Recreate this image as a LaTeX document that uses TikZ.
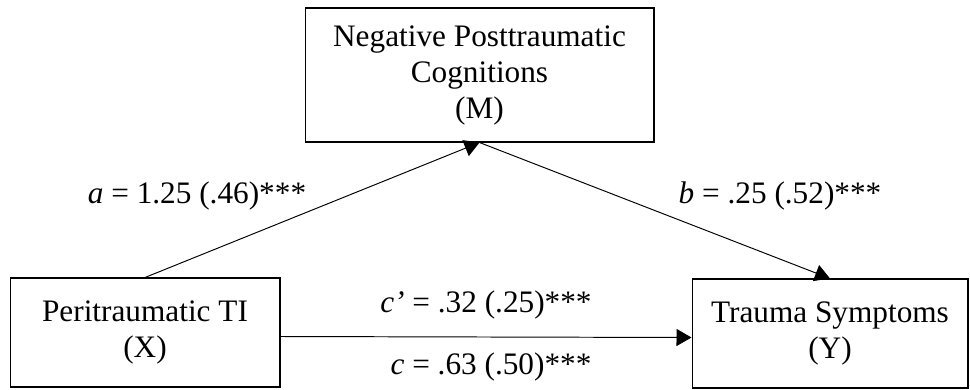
\documentclass[tikz,border=0pt]{standalone}
\usepackage{fontspec}
\setmainfont{Liberation Serif}
\usetikzlibrary{arrows.meta}

\begin{document}
\begin{tikzpicture}[x=0.02cm, y=-0.02cm, >={Triangle[length=0.3cm, width=0.34cm]},
    font=\fontsize{17.8}{20.5}\selectfont,
    var/.style={draw, line width=0.6pt, align=center, inner sep=0pt},
    effect/.style={->, line width=0.55pt}]

    \useasboundingbox (0,0) rectangle (970,389);

    % --- variables ---
    \node[var, minimum width=6.98cm, minimum height=2.68cm] (M) at (479.5,75)
        {Negative Posttraumatic\\Cognitions\\(M)};
    \node[var, minimum width=5.4cm, minimum height=2.18cm] (X) at (145,332.5)
        {Peritraumatic TI\\(X)};
    \node[var, minimum width=5.52cm, minimum height=2.18cm] (Y) at (830,333.5)
        {Trauma Symptoms\\(Y)};

    % --- paths ---
    \draw[effect] (X.north) -- (M.south);
    \draw[effect] (M.south) -- (Y.north);
    \draw[effect] ([yshift=-0.08cm]X.east) -- ([yshift=-0.08cm]Y.west)
        node[midway, anchor=base, yshift=0.5cm] (cp) {\textit{c’} = .32 (.25)***}
        node[midway, anchor=base, yshift=-0.76cm, xshift=0.1cm] (c) {\textit{c} = .63 (.50)***};

    % --- coefficients ---
    \node[anchor=base] (a) at (197,203) {\textit{a} = 1.25 (.46)***};
    \node[anchor=base] (b) at (780,203) {\textit{b} = .25 (.52)***};

\end{tikzpicture}
\end{document}
